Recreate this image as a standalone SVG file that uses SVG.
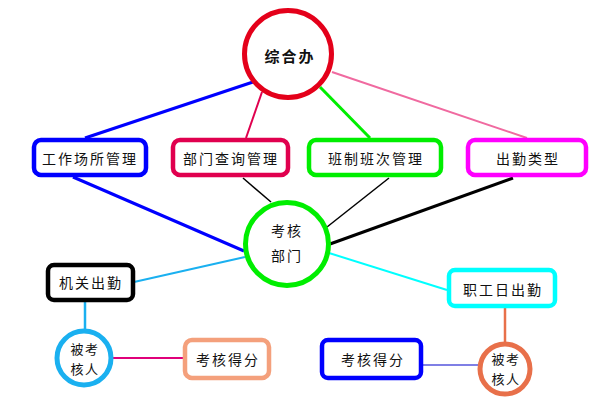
<svg xmlns="http://www.w3.org/2000/svg" width="600" height="400" viewBox="0 0 600 400">
<style>
text{font-family:"Noto Sans CJK SC","Noto Sans CJK JP",sans-serif;font-size:14px;fill:#111;text-anchor:middle;dominant-baseline:central;letter-spacing:2px}
.sm{font-size:13px;letter-spacing:1.5px}
.box{fill:#fff;stroke-width:4.5}
.c{fill:#fff;stroke-width:5}
.ln{fill:none}
</style>
<rect width="600" height="400" fill="#fff"/>
<g id="connectors" class="ln">
<line x1="253" y1="82" x2="85" y2="138" stroke="#0000ff" stroke-width="3"/>
<line x1="262" y1="92" x2="246" y2="138" stroke="#e0004e" stroke-width="2"/>
<line x1="320" y1="87" x2="370" y2="138" stroke="#00ee00" stroke-width="3"/>
<line x1="332" y1="72" x2="527" y2="138" stroke="#f06aa0" stroke-width="2"/>
<line x1="73" y1="177" x2="244" y2="251" stroke="#0000ff" stroke-width="3"/>
<line x1="243" y1="178" x2="271" y2="202" stroke="#000" stroke-width="1.5"/>
<line x1="389" y1="178" x2="327" y2="227" stroke="#000" stroke-width="1.5"/>
<line x1="513" y1="178" x2="330" y2="244" stroke="#000" stroke-width="3"/>
<line x1="245" y1="257" x2="134" y2="282" stroke="#1ab0f0" stroke-width="2"/>
<line x1="329" y1="253" x2="447" y2="290" stroke="#00ffff" stroke-width="2"/>
<line x1="85" y1="302" x2="85" y2="331" stroke="#1ab0f0" stroke-width="2.5"/>
<line x1="112" y1="358" x2="184" y2="358" stroke="#e0007a" stroke-width="2"/>
<line x1="505" y1="308" x2="505" y2="342" stroke="#e8704a" stroke-width="2.5"/>
<line x1="422" y1="365" x2="479" y2="365" stroke="#0000cc" stroke-width="1.2"/>
</g>
<g id="zonghe">
<circle class="c" cx="288" cy="54" r="43.5" stroke="#e4001a"/>
<text x="290" y="55" style="font-weight:600;font-size:15px">综合办</text>
</g>
<g id="gongzuo">
<rect class="box" x="34" y="140" width="112" height="35" rx="7" stroke="#0000ff"/>
<text x="90" y="158">工作场所管理</text>
</g>
<g id="bumen">
<rect class="box" x="173" y="140" width="115" height="35" rx="7" stroke="#e0004e"/>
<text x="231" y="158">部门查询管理</text>
</g>
<g id="banzhi">
<rect class="box" x="309" y="140" width="132" height="35" rx="7" stroke="#00ee00"/>
<text x="376" y="158">班制班次管理</text>
</g>
<g id="chuqin">
<rect class="box" x="468" y="140" width="118" height="35" rx="7" stroke="#ff00ff"/>
<text x="528" y="158">出勤类型</text>
</g>
<g id="kaohebumen">
<circle class="c" cx="287" cy="244" r="41.5" stroke="#00ee00"/>
<text x="287" y="230">考核</text>
<text x="287" y="255">部门</text>
</g>
<g id="jiguan">
<rect class="box" x="48" y="265" width="85" height="35" rx="6" stroke="#000" stroke-width="5"/>
<text x="91" y="282">机关出勤</text>
</g>
<g id="zhigong">
<rect class="box" x="449" y="270" width="106" height="36" rx="6" stroke="#00ffff"/>
<text x="503" y="289">职工日出勤</text>
</g>
<g id="beikao1">
<circle class="c" cx="84" cy="358" r="27" stroke="#1ab0f0" stroke-width="4.5"/>
<text class="sm" x="85" y="348">被考</text>
<text class="sm" x="85" y="368">核人</text>
</g>
<g id="defen1">
<rect class="box" x="185" y="340" width="84" height="38" rx="7" stroke="#f4a07c"/>
<text x="228" y="359">考核得分</text>
</g>
<g id="defen2">
<rect class="box" x="322" y="340" width="99" height="38" rx="6" stroke="#0000ff"/>
<text x="373" y="359">考核得分</text>
</g>
<g id="beikao2">
<circle class="c" cx="505" cy="369" r="25" stroke="#e8704a" stroke-width="4.5"/>
<text class="sm" x="506" y="358">被考</text>
<text class="sm" x="506" y="378">核人</text>
</g>
</svg>
